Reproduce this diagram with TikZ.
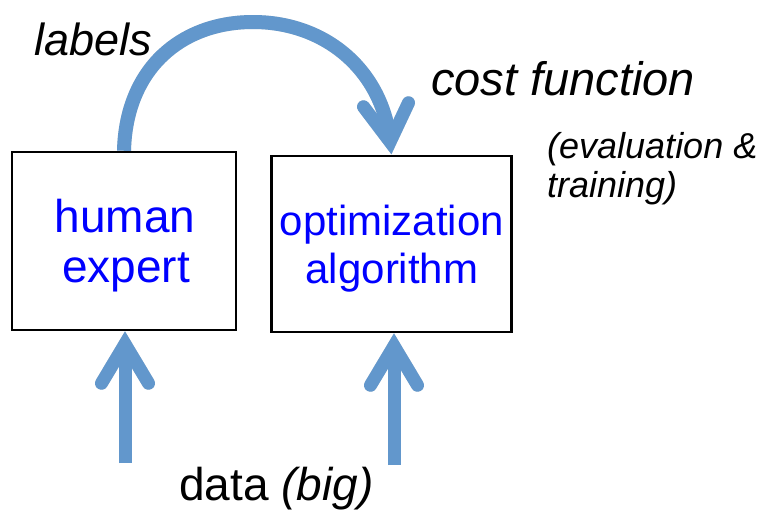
\documentclass[tikz,border=0pt]{standalone}
\usepackage{fontspec}
\setmainfont{Liberation Sans}
\usetikzlibrary{calc}
\definecolor{arrowblue}{RGB}{98,151,204}
\definecolor{txtblue}{RGB}{0,0,255}
\newcommand\myArrowPaths[1]{%
  % curved arrow: human expert -> optimization algorithm
  \draw[#1, line width=14pt, line cap=butt] (b1.north)
     .. controls ($(b1.north)+(2,-82)$) and ($(apex)+(-72,0)$) .. (apex)
     .. controls ($(apex)+(73,0)$) and ($(b2.north)+(-9,-84)$) .. ($(b2.north)+(-1.4,-12.9)$);
  \draw[#1, line width=13pt, line cap=round, line join=miter]
     ($(b2.north)+(-28,-48)$) -- ($(b2.north)+(-1.4,-12.9)$) -- ($(b2.north)+(17,-52)$);
  % data arrows
  \draw[#1, line width=13pt, line cap=butt] (d1) -- ($(d1 |- b1.south)+(0,12.7)$);
  \draw[#1, line width=13pt, line cap=round, line join=miter]
     ($(d1 |- b1.south)+(-23.5,52)$) -- ($(d1 |- b1.south)+(0,12.7)$) -- ($(d1 |- b1.south)+(23.5,52)$);
  \draw[#1, line width=13pt, line cap=butt] (d2) -- ($(d2 |- b2.south)+(0,12.7)$);
  \draw[#1, line width=13pt, line cap=round, line join=miter]
     ($(d2 |- b2.south)+(-23.5,52)$) -- ($(d2 |- b2.south)+(0,12.7)$) -- ($(d2 |- b2.south)+(23.5,52)$);
}
\begin{document}
\begin{tikzpicture}[x=1pt,y=-1pt,
  box/.style={draw=black, line width=2.5pt, rectangle, inner sep=0pt},
  plaintxt/.style={inner sep=0pt, text=black, anchor=base west},
  boxtxt/.style={inner sep=0pt, text=txtblue, anchor=base}]
\useasboundingbox (0,0) rectangle (769,515);
\fill[white] (0,0) rectangle (769,515);

\node[box, minimum width=224pt, minimum height=178pt] (b1) at (124,241) {};
\node[box, minimum width=240pt, minimum height=176pt] (b2) at (391.5,244) {};

\node[boxtxt, font=\fontsize{46}{52}\selectfont] (h1) at (125,232) {human};
\node[boxtxt, font=\fontsize{46}{52}\selectfont] (h2) at (126,282) {expert};
\node[boxtxt, font=\fontsize{42}{48}\selectfont] (o1) at (392,235) {optimization};
\node[boxtxt, font=\fontsize{42}{48}\selectfont] (o2) at (392,283) {algorithm};

\coordinate (apex) at (253,22);
\coordinate (d1) at (125,463);
\coordinate (d2) at (394,465);

\begin{scope}[shift={(1.5,2.5)}]
  \myArrowPaths{draw=black, draw opacity=0.12}
\end{scope}
\myArrowPaths{draw=arrowblue}

\node[plaintxt, font=\fontsize{45}{52}\selectfont\itshape] (lab) at (34,55) {labels};
\node[plaintxt, font=\fontsize{47}{56}\selectfont\itshape] (cost) at (431,95) {cost function};
\node[plaintxt, font=\fontsize{36}{42}\selectfont\itshape] (ev1) at (547,158) {(evaluation \&};
\node[plaintxt, font=\fontsize{36}{42}\selectfont\itshape] (ev2) at (547,197) {training)};
\node[plaintxt, font=\fontsize{46}{52}\selectfont] (data) at (179,500) {data \textit{(big)}};
\end{tikzpicture}
\end{document}
